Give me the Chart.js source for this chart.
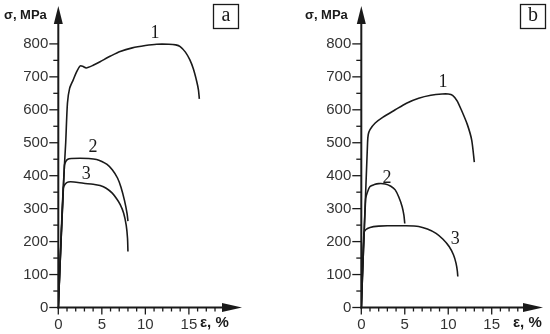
<!DOCTYPE html>
<html>
<head>
<meta charset="utf-8">
<script src="https://cdn.jsdelivr.net/npm/chart.js@4.4.1/dist/chart.umd.min.js"></script>
<style>
  html, body { margin: 0; padding: 0; background: #fff; }
  #wrap { display: flex; width: 550px; height: 334px; }
  .panel { position: relative; width: 275px; height: 334px; }
</style>
</head>
<body>
<div id="wrap">
  <div class="panel"><canvas id="chartA"></canvas></div>
  <div class="panel"><canvas id="chartB"></canvas></div>
</div>
<script>
// Tick values
const xTicks = [0, 5, 10, 15];
const xMinor = [0, 1, 2, 3, 4, 5, 6, 7, 8, 9, 10, 11, 12, 13, 14, 15, 16, 17, 18];
const yTicks = [0, 100, 200, 300, 400, 500, 600, 700, 800];
const yMinor = [0, 50, 100, 150, 200, 250, 300, 350, 400, 450, 500, 550, 600, 650, 700, 750, 800];

// Panel a — strain (%) / stress (MPa)
const epsA1 = [0, 0.6, 0.85, 1.05, 1.3, 1.7, 2.1, 2.5, 2.8, 3.2, 4.0, 4.8, 6.0, 7.1, 8.5, 10.0, 11.3, 12.7, 13.5, 14.0, 14.6, 15.1, 15.5, 15.9, 16.1, 16.2];
const sigA1 = [0, 380, 500, 620, 665, 690, 715, 733, 732, 727, 735, 746, 763, 777, 788, 795, 799, 799, 797, 792, 775, 752, 725, 686, 660, 633];
const epsA2 = [0, 0.7, 0.85, 1.1, 1.5, 2.5, 3.5, 4.4, 5.0, 5.6, 6.2, 6.8, 7.2, 7.6, 7.9, 8.0];
const sigA2 = [0, 430, 443, 450, 452, 453, 452, 449, 443, 434, 418, 393, 365, 325, 285, 262];
const epsA3 = [0, 0.57, 0.8, 1.15, 1.8, 2.9, 4.0, 4.8, 5.5, 6.2, 6.7, 7.1, 7.5, 7.8, 7.95, 8.0];
const sigA3 = [0, 363, 375, 381, 381, 377, 374, 370, 362, 347, 330, 313, 287, 250, 210, 170];

// Panel b
const epsB1 = [0, 0.72, 0.8, 1.0, 1.6, 2.5, 3.9, 5.2, 6.6, 8.0, 9.3, 10.0, 10.5, 11.0, 11.5, 12.2, 12.7, 13.0];
const sigB1 = [0, 500, 525, 540, 560, 578, 600, 620, 635, 644, 648, 648, 644, 628, 600, 555, 508, 441];
const epsB2 = [0, 0.5, 0.7, 1.0, 1.5, 2.0, 2.75, 3.4, 3.9, 4.3, 4.7, 4.9, 5.0];
const sigB2 = [0, 330, 350, 367, 373, 376, 375, 368, 357, 336, 306, 280, 255];
const epsB3 = [0, 0.3, 0.5, 1.0, 2.0, 3.0, 5.0, 6.6, 7.6, 8.6, 9.4, 10.1, 10.6, 10.9, 11.05, 11.1];
const sigB3 = [0, 225, 236, 243, 247, 248, 248, 246, 238, 225, 207, 185, 160, 134, 110, 94];

// Curve numbers, placed in data units
const labelsA = [{ t: '1', x: 11.1, y: 833 }, { t: '2', x: 4.0, y: 487 }, { t: '3', x: 3.2, y: 405 }];
const labelsB = [{ t: '1', x: 9.4, y: 685 }, { t: '2', x: 2.95, y: 393 }, { t: '3', x: 10.8, y: 208 }];

const INK = '#1a1a1a';
const TICK_FONT = { family: "'Liberation Sans', Arial, sans-serif", size: 15 };

const toPoints = (xs, ys) => xs.map((v, i) => ({ x: v, y: ys[i] }));

const curve = (xs, ys) => ({
  data: toPoints(xs, ys),
  showLine: true,
  borderColor: INK,
  borderWidth: 1.6,
  pointRadius: 0,
  tension: 0.25,
  fill: false
});

const line = (ctx, x1, y1, x2, y2) => {
  ctx.beginPath(); ctx.moveTo(x1, y1); ctx.lineTo(x2, y2); ctx.stroke();
};

const decorPlugin = {
  id: 'decor',
  afterDraw(chart, args, opts) {
    const { ctx, chartArea, scales: { x, y } } = chart;
    const x0 = x.getPixelForValue(0);
    const y0 = y.getPixelForValue(0);
    const top = chartArea.top, right = chartArea.right;
    ctx.save();
    ctx.strokeStyle = INK;
    ctx.fillStyle = INK;

    // axes with arrows
    ctx.lineWidth = 2;
    line(ctx, x0, y0 + 1, x0, top + 12);
    line(ctx, x0 - 1, y0, right - 12, y0);
    ctx.beginPath();
    ctx.moveTo(x0, top); ctx.lineTo(x0 - 4.5, top + 18); ctx.lineTo(x0 + 4.5, top + 18); ctx.closePath(); ctx.fill();
    ctx.beginPath();
    ctx.moveTo(right, y0); ctx.lineTo(right - 20, y0 - 4.5); ctx.lineTo(right - 20, y0 + 4.5); ctx.closePath(); ctx.fill();

    // tick marks
    ctx.lineWidth = 1.3;
    xMinor.forEach(v => {
      const px = x.getPixelForValue(v);
      line(ctx, px, y0, px, y0 + (xTicks.includes(v) ? 7 : 4));
    });
    yMinor.forEach(v => {
      const py = y.getPixelForValue(v);
      line(ctx, x0 - (yTicks.includes(v) ? 9 : 5), py, x0, py);
    });

    // curve numbers
    ctx.font = "18px 'Liberation Serif', 'Times New Roman', serif";
    ctx.textAlign = 'center';
    ctx.textBaseline = 'middle';
    opts.labels.forEach(l => ctx.fillText(l.t, x.getPixelForValue(l.x), y.getPixelForValue(l.y)));

    // axis titles
    ctx.font = "bold 13px 'Liberation Sans', Arial, sans-serif";
    ctx.textAlign = 'left';
    ctx.fillText('σ, MPa', opts.sigmaX, 15);
    ctx.font = "bold 15px 'Liberation Sans', Arial, sans-serif";
    ctx.fillText('ε, %', opts.epsX, 323);

    // panel letter box
    ctx.lineWidth = 1.3;
    ctx.strokeRect(opts.boxX, 4.5, 25, 24);
    ctx.font = "20px 'Liberation Serif', 'Times New Roman', serif";
    ctx.textAlign = 'center';
    ctx.fillText(opts.letter, opts.boxX + 12.5, 16);
    ctx.restore();
  }
};

function makePanel(id, datasets, p) {
  return new Chart(document.getElementById(id), {
    type: 'scatter',
    data: { datasets },
    plugins: [decorPlugin],
    options: {
      responsive: true,
      maintainAspectRatio: false,
      animation: false,
      layout: { padding: { top: 6, right: p.padRight, left: 0, bottom: 0 } },
      plugins: {
        legend: { display: false },
        tooltip: { enabled: false },
        decor: p
      },
      scales: {
        x: {
          type: 'linear',
          min: 0,
          max: p.xMax,
          grid: { display: false, drawTicks: false },
          border: { display: false },
          ticks: { font: TICK_FONT, color: '#333', padding: 8, maxRotation: 0, autoSkip: false },
          afterBuildTicks: s => { s.ticks = xTicks.map(v => ({ value: v })); },
          afterFit: s => { s.height = 26.5; s.paddingLeft = 0; s.paddingRight = 0; }
        },
        y: {
          type: 'linear',
          min: 0,
          max: 915,
          grid: { display: false, drawTicks: false },
          border: { display: false },
          ticks: { font: TICK_FONT, color: '#333', padding: 10, autoSkip: false },
          afterBuildTicks: s => { s.ticks = yTicks.map(v => ({ value: v })); },
          afterFit: s => { s.width = p.axisLeft; s.paddingTop = 0; s.paddingBottom = 0; }
        }
      }
    }
  });
}

makePanel('chartA', [curve(epsA1, sigA1), curve(epsA2, sigA2), curve(epsA3, sigA3)], {
  axisLeft: 58.3, padRight: 33, xMax: 21.1,
  labels: labelsA, sigmaX: 4, epsX: 200, boxX: 213.5, letter: 'a'
});

makePanel('chartB', [curve(epsB1, sigB1), curve(epsB2, sigB2), curve(epsB3, sigB3)], {
  axisLeft: 86.3, padRight: 7, xMax: 20.9,
  labels: labelsB, sigmaX: 30, epsX: 238, boxX: 245.5, letter: 'b'
});
</script>
</body>
</html>
